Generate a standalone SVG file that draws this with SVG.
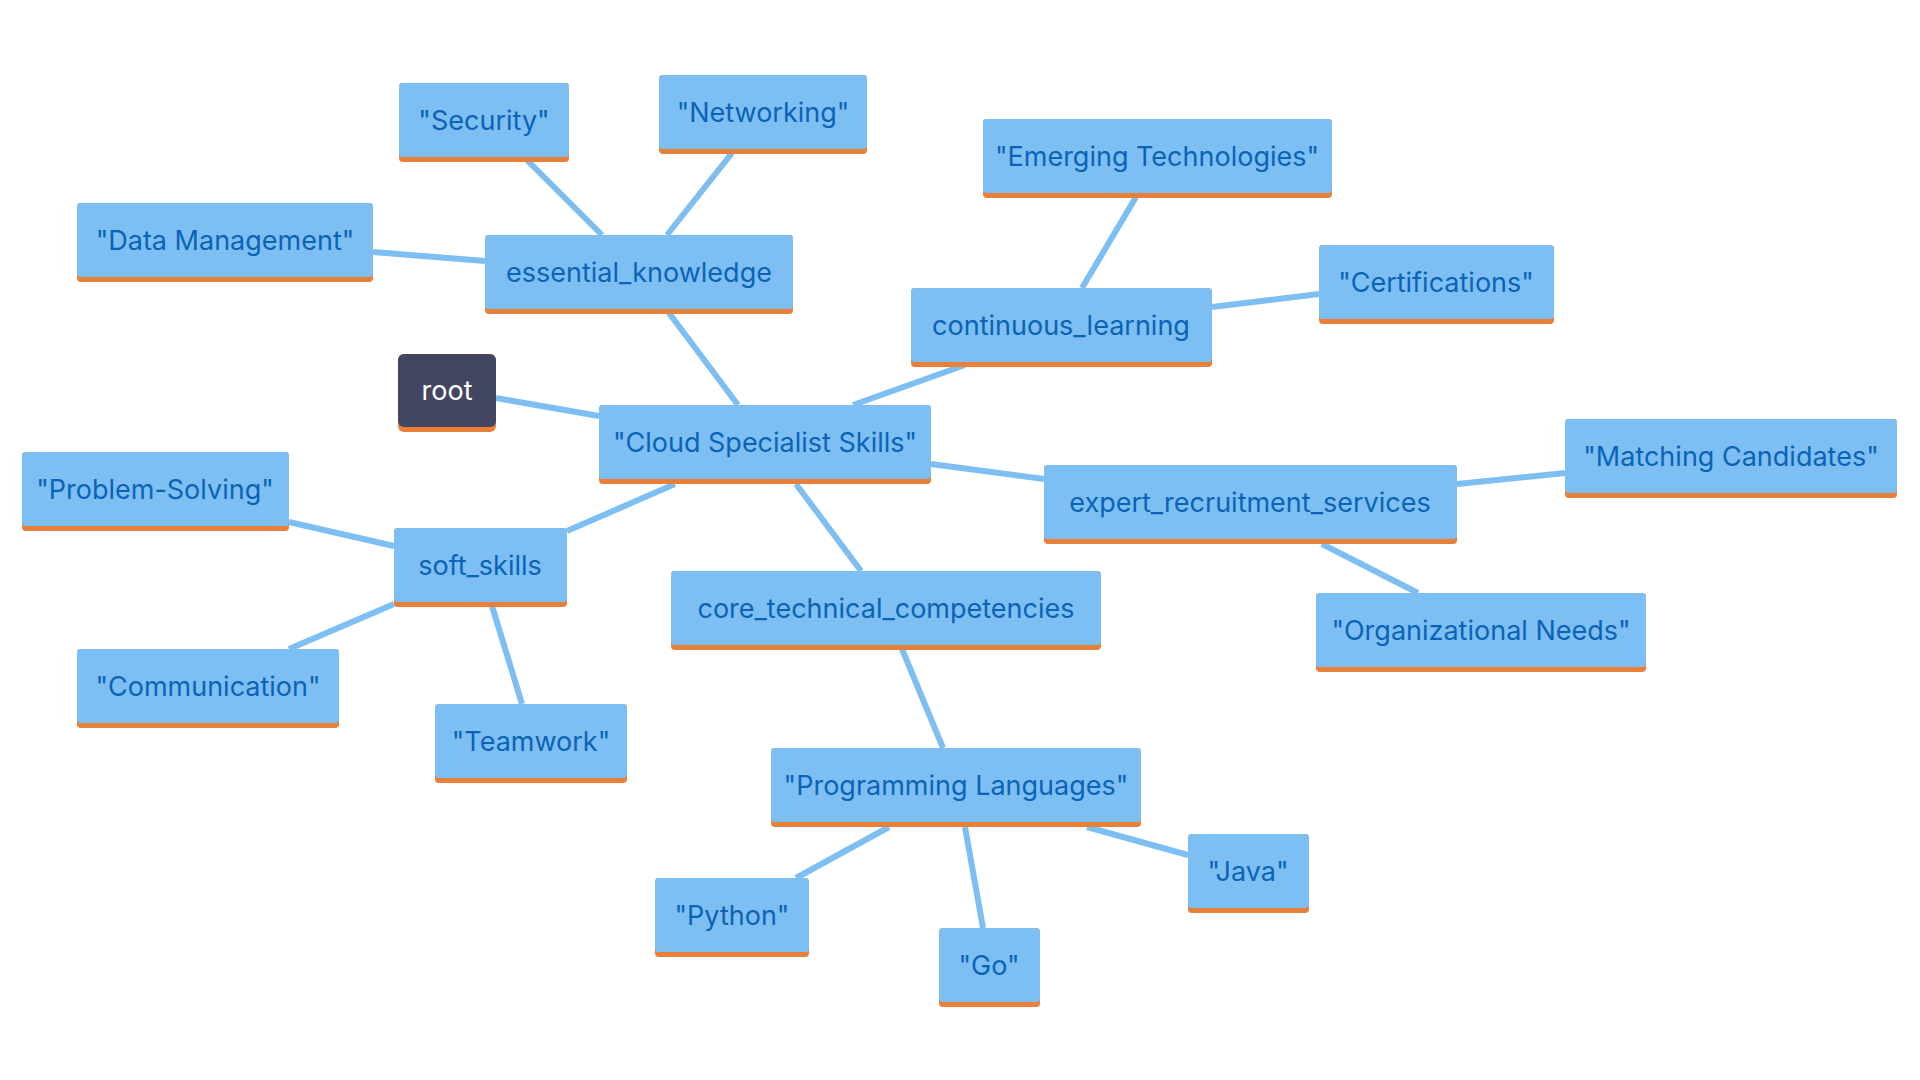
<svg xmlns="http://www.w3.org/2000/svg" width="1920" height="1080" viewBox="0 0 1920 1080">
<style>
.n rect.b{fill:#7dbff2}
.n rect.o{fill:#e8803a}
.n text{font-family:Inter,"Open Sans",sans-serif;font-size:27px;fill:#0b63b8;text-anchor:middle;dominant-baseline:central}
#root rect.b{fill:#424660}
#root text{fill:#ffffff}
#edges line{stroke:#7dbff2;stroke-width:6}
</style>
<rect width="1920" height="1080" fill="#ffffff"/>
<g id="edges">
<line x1="496" y1="398" x2="599" y2="416"/>
<line x1="738" y1="405" x2="669" y2="313"/>
<line x1="602" y1="235" x2="527" y2="160"/>
<line x1="667" y1="235" x2="732" y2="153"/>
<line x1="485" y1="261" x2="373" y2="252"/>
<line x1="853" y1="405" x2="965" y2="365"/>
<line x1="1082" y1="288" x2="1136" y2="197"/>
<line x1="1212" y1="307" x2="1319" y2="294"/>
<line x1="931" y1="464" x2="1044" y2="479"/>
<line x1="1457" y1="484" x2="1565" y2="473"/>
<line x1="1322" y1="544" x2="1418" y2="593"/>
<line x1="675" y1="484" x2="567" y2="531"/>
<line x1="394" y1="546" x2="289" y2="522"/>
<line x1="394" y1="604" x2="289" y2="649"/>
<line x1="492" y1="606" x2="522" y2="704"/>
<line x1="796" y1="484" x2="861" y2="571"/>
<line x1="902" y1="649" x2="943" y2="748"/>
<line x1="889" y1="827" x2="796" y2="878"/>
<line x1="965" y1="827" x2="983" y2="928"/>
<line x1="1087" y1="827" x2="1188" y2="855"/>
</g>
<g id="root" class="n"><rect class="o" x="398" y="354" width="98" height="78" rx="6"/><rect class="b" x="398" y="354" width="98" height="73" rx="6"/><text x="447" y="390">root</text></g>
<g id="css" class="n"><rect class="o" x="599" y="405" width="332" height="79" rx="4"/><rect class="b" x="599" y="405" width="332" height="74" rx="4"/><text x="765" y="442">"Cloud Specialist Skills"</text></g>
<g id="ek" class="n"><rect class="o" x="485" y="235" width="308" height="79" rx="4"/><rect class="b" x="485" y="235" width="308" height="74" rx="4"/><text x="639" y="272">essential_knowledge</text></g>
<g id="sec" class="n"><rect class="o" x="399" y="83" width="170" height="79" rx="4"/><rect class="b" x="399" y="83" width="170" height="74" rx="4"/><text x="484" y="120">"Security"</text></g>
<g id="net" class="n"><rect class="o" x="659" y="75" width="208" height="79" rx="4"/><rect class="b" x="659" y="75" width="208" height="74" rx="4"/><text x="763" y="112">"Networking"</text></g>
<g id="dm" class="n"><rect class="o" x="77" y="203" width="296" height="79" rx="4"/><rect class="b" x="77" y="203" width="296" height="74" rx="4"/><text x="225" y="240">"Data Management"</text></g>
<g id="cl" class="n"><rect class="o" x="911" y="288" width="301" height="79" rx="4"/><rect class="b" x="911" y="288" width="301" height="74" rx="4"/><text x="1061" y="325">continuous_learning</text></g>
<g id="et" class="n"><rect class="o" x="983" y="119" width="349" height="79" rx="4"/><rect class="b" x="983" y="119" width="349" height="74" rx="4"/><text x="1157" y="156">"Emerging Technologies"</text></g>
<g id="cert" class="n"><rect class="o" x="1319" y="245" width="235" height="79" rx="4"/><rect class="b" x="1319" y="245" width="235" height="74" rx="4"/><text x="1436" y="282">"Certifications"</text></g>
<g id="ers" class="n"><rect class="o" x="1044" y="465" width="413" height="79" rx="4"/><rect class="b" x="1044" y="465" width="413" height="74" rx="4"/><text x="1250" y="502">expert_recruitment_services</text></g>
<g id="mc" class="n"><rect class="o" x="1565" y="419" width="332" height="79" rx="4"/><rect class="b" x="1565" y="419" width="332" height="74" rx="4"/><text x="1731" y="456">"Matching Candidates"</text></g>
<g id="on" class="n"><rect class="o" x="1316" y="593" width="330" height="79" rx="4"/><rect class="b" x="1316" y="593" width="330" height="74" rx="4"/><text x="1481" y="630">"Organizational Needs"</text></g>
<g id="ss" class="n"><rect class="o" x="394" y="528" width="173" height="79" rx="4"/><rect class="b" x="394" y="528" width="173" height="74" rx="4"/><text x="480" y="565">soft_skills</text></g>
<g id="ps" class="n"><rect class="o" x="22" y="452" width="267" height="79" rx="4"/><rect class="b" x="22" y="452" width="267" height="74" rx="4"/><text x="155" y="489">"Problem-Solving"</text></g>
<g id="comm" class="n"><rect class="o" x="77" y="649" width="262" height="79" rx="4"/><rect class="b" x="77" y="649" width="262" height="74" rx="4"/><text x="208" y="686">"Communication"</text></g>
<g id="team" class="n"><rect class="o" x="435" y="704" width="192" height="79" rx="4"/><rect class="b" x="435" y="704" width="192" height="74" rx="4"/><text x="531" y="741">"Teamwork"</text></g>
<g id="ctc" class="n"><rect class="o" x="671" y="571" width="430" height="79" rx="4"/><rect class="b" x="671" y="571" width="430" height="74" rx="4"/><text x="886" y="608">core_technical_competencies</text></g>
<g id="pl" class="n"><rect class="o" x="771" y="748" width="370" height="79" rx="4"/><rect class="b" x="771" y="748" width="370" height="74" rx="4"/><text x="956" y="785">"Programming Languages"</text></g>
<g id="py" class="n"><rect class="o" x="655" y="878" width="154" height="79" rx="4"/><rect class="b" x="655" y="878" width="154" height="74" rx="4"/><text x="732" y="915">"Python"</text></g>
<g id="go" class="n"><rect class="o" x="939" y="928" width="101" height="79" rx="4"/><rect class="b" x="939" y="928" width="101" height="74" rx="4"/><text x="989" y="965">"Go"</text></g>
<g id="java" class="n"><rect class="o" x="1188" y="834" width="121" height="79" rx="4"/><rect class="b" x="1188" y="834" width="121" height="74" rx="4"/><text x="1248" y="871">"Java"</text></g>
</svg>
